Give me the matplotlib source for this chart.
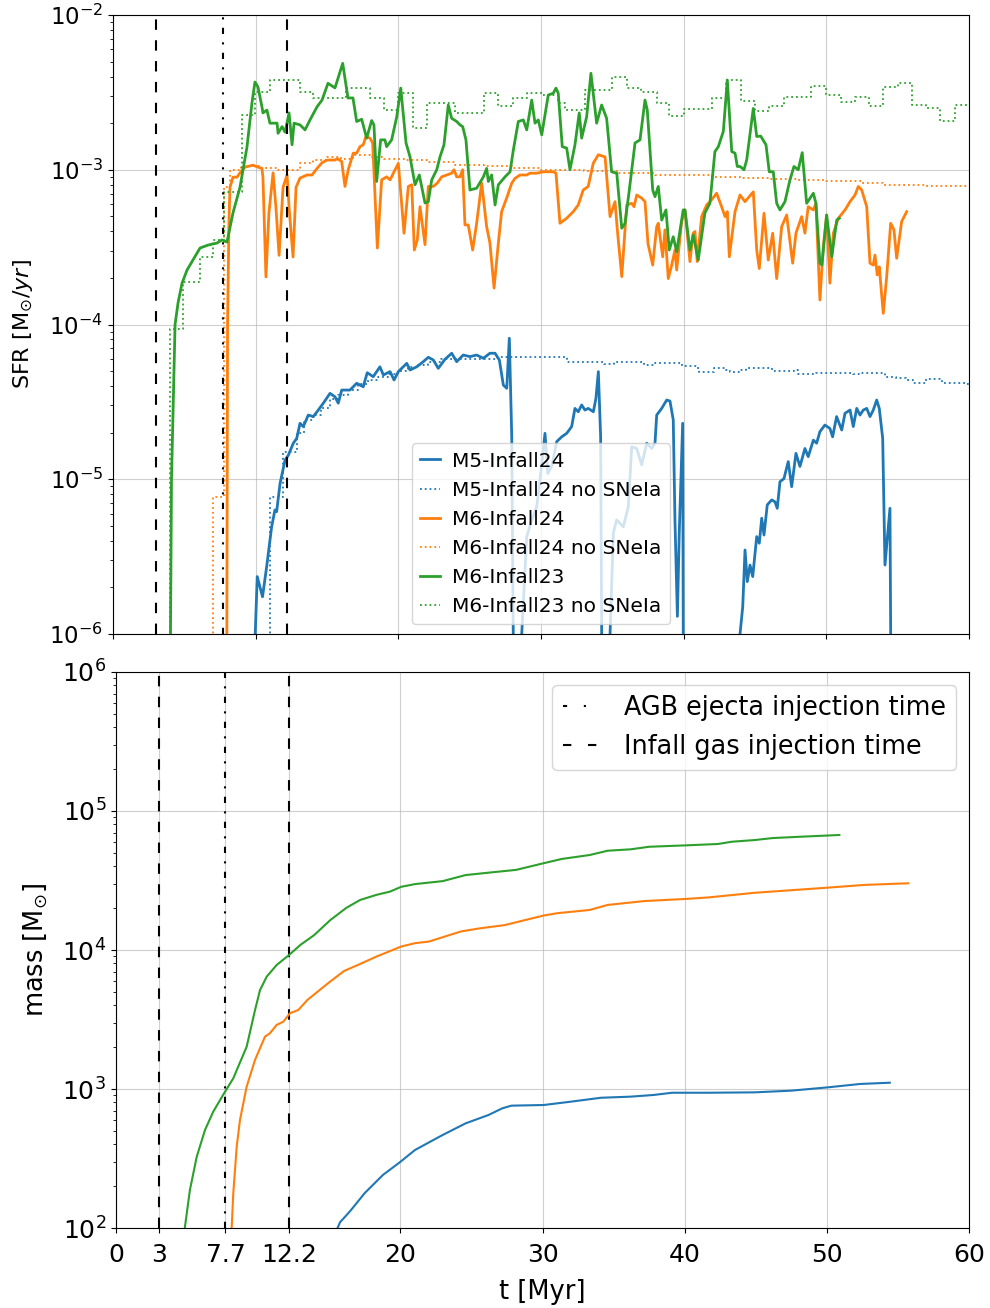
import numpy as np
import matplotlib
matplotlib.use('Agg')
import matplotlib.pyplot as plt

# injection times [Myr]
agb_time = 7.7
infall_times = [3, 12.2]
xtick_vals = [0, 3, 7.7, 12.2, 20, 30, 40, 50, 60]
xtick_labels = ['0', '3', '7.7', '12.2', '20', '30', '40', '50', '60']

# SFR [Msun/yr] vs t [Myr], (t, sfr) pairs, nan breaks the line
m5_infall24 = [
    (9.93, 5e-7), (9.97, 1e-6), (10.11, 2.35e-6), (10.48, 1.74e-6), (10.77, 2.72e-6), (11.12, 4.93e-6),
    (11.35, 6.33e-6), (11.47, 6.17e-6), (11.71, 9.4e-6), (12.06, 1.33e-5), (12.29, 1.43e-5), (12.64, 1.71e-5),
    (12.88, 1.84e-5), (13.11, 2.30e-5), (13.34, 2.19e-5), (13.69, 2.60e-5), (14.04, 2.54e-5), (14.39, 2.80e-5),
    (14.74, 3.10e-5), (15.21, 3.59e-5), (15.56, 3.41e-5), (15.79, 3.10e-5), (16.03, 3.77e-5), (16.61, 3.77e-5),
    (17.08, 4.17e-5), (17.54, 3.96e-5), (17.82, 4.88e-5), (18.24, 4.60e-5), (18.71, 5.33e-5), (18.95, 4.72e-5),
    (19.42, 4.96e-5), (19.70, 4.38e-5), (20.00, 4.96e-5), (20.59, 5.61e-5), (20.82, 5.08e-5), (21.29, 5.33e-5),
    (21.75, 5.75e-5), (22.10, 6.14e-5), (22.45, 5.9e-5), (22.80, 5.21e-5), (23.27, 5.96e-5), (23.74, 6.52e-5),
    (24.09, 5.75e-5), (24.55, 6.35e-5), (25.02, 6.2e-5), (25.49, 6.35e-5), (25.96, 6.05e-5), (26.42, 6.52e-5),
    (26.78, 6.52e-5), (27.08, 5.9e-5), (27.36, 4.06e-5), (27.60, 3.87e-5), (27.78, 8.15e-5), (27.95, 1.88e-5),
    (28.06, 1e-6), (28.08, 5e-7), (np.nan, np.nan),
    (28.62, 5e-7), (28.65, 1e-6), (29.00, 4.26e-6), (29.35, 5.46e-6), (29.70, 6.65e-6), (29.93, 9.9e-6),
    (30.28, 1.98e-5), (30.47, 1.09e-5), (30.75, 1.21e-5), (31.10, 1.75e-5), (31.45, 1.88e-5), (31.80, 1.98e-5),
    (32.15, 2.19e-5), (32.38, 2.87e-5), (32.61, 2.73e-5), (32.85, 3.02e-5), (33.08, 2.8e-5), (33.31, 2.87e-5),
    (33.67, 2.73e-5), (33.85, 3.33e-5), (34.02, 4.96e-5), (34.18, 1.88e-5), (34.25, 1e-6), (34.27, 5e-7),
    (np.nan, np.nan),
    (34.82, 5e-7), (34.84, 1e-6), (35.07, 4.48e-6), (35.30, 5.46e-6), (35.77, 4.93e-6), (36.12, 6.65e-6),
    (36.36, 1.62e-5), (36.71, 1.58e-5), (37.06, 1.24e-5), (37.41, 1.71e-5), (37.76, 1.58e-5), (37.99, 1.71e-5),
    (38.11, 2.6e-5), (38.46, 2.87e-5), (38.81, 3.25e-5), (39.04, 3.2e-5), (39.27, 2.42e-5), (39.39, 5.46e-6),
    (39.56, 1.3e-6), (39.69, 4.48e-6), (39.93, 2.3e-5), (39.97, 1e-6), (39.98, 5e-7), (np.nan, np.nan),
    (43.93, 5e-7), (43.95, 1e-6), (44.14, 1.5e-6), (44.30, 3.49e-6), (44.46, 2.18e-6), (44.65, 2.79e-6),
    (44.84, 2.35e-6), (45.12, 4.26e-6), (45.30, 3.86e-6), (45.47, 5.6e-6), (45.63, 4.36e-6), (45.86, 6.83e-6),
    (46.17, 7.35e-6), (46.40, 7.15e-6), (46.56, 6.49e-6), (46.75, 9.64e-6), (47.03, 1.01e-5), (47.33, 1.3e-5),
    (47.57, 8.95e-6), (47.87, 1.47e-5), (48.15, 1.21e-5), (48.50, 1.58e-5), (48.73, 1.4e-5), (49.09, 1.79e-5),
    (49.32, 1.71e-5), (49.55, 2.03e-5), (49.90, 2.24e-5), (50.25, 2.13e-5), (50.44, 1.88e-5), (50.72, 2.54e-5),
    (51.08, 2.08e-5), (51.31, 2.67e-5), (51.66, 2.8e-5), (51.89, 2.19e-5), (52.13, 2.87e-5), (52.36, 2.6e-5),
    (52.59, 2.8e-5), (52.83, 2.87e-5), (53.06, 2.54e-5), (53.29, 2.8e-5), (53.53, 3.25e-5), (53.71, 2.87e-5),
    (53.95, 1.84e-5), (54.11, 2.79e-6), (54.46, 6.49e-6), (54.51, 1e-6), (54.52, 5e-7),
]

m5_infall24_nosnia = [
    (10.5, 1e-7), (11.0, 7.7e-6), (11.94, 1.5e-5), (12.9, 2.0e-5), (13.4, 2.4e-5), (14.0, 2.6e-5),
    (14.6, 2.9e-5), (15.2, 3.3e-5), (15.8, 3.5e-5), (16.5, 3.8e-5), (17.2, 4.1e-5), (17.9, 4.4e-5),
    (18.6, 4.6e-5), (19.3, 4.8e-5), (20.0, 5.0e-5), (20.7, 5.3e-5), (21.4, 5.5e-5), (22.1, 5.7e-5),
    (23.0, 6.0e-5), (26.9, 6.2e-5), (31.8, 5.75e-5), (34.4, 5.55e-5), (35.1, 5.75e-5), (37.2, 5.47e-5),
    (37.9, 5.65e-5), (38.8, 5.6e-5), (39.9, 5.4e-5), (40.9, 5.2e-5), (41.1, 4.95e-5), (42.1, 5.2e-5),
    (43.0, 5.08e-5), (43.25, 4.9e-5), (43.95, 5.08e-5), (44.4, 5.2e-5), (45.8, 5.2e-5), (46.2, 5.03e-5),
    (47.7, 5.08e-5), (48.0, 4.79e-5), (49.3, 4.85e-5), (51.9, 4.79e-5), (52.4, 4.85e-5), (54.0, 4.85e-5),
    (54.1, 4.6e-5), (54.9, 4.5e-5), (55.6, 4.38e-5), (56.1, 4.2e-5), (57.0, 4.45e-5), (58.0, 4.38e-5),
    (58.1, 4.18e-5), (59.8, 4.13e-5), (60.0, 4.13e-5),
]

m6_infall24 = [
    (7.96, 5e-7), (7.98, 1e-6), (8.03, 1e-4), (8.13, 4.7e-4), (8.20, 7.7e-4), (8.41, 8.95e-4), (8.69, 8.95e-4),
    (8.90, 9.55e-4), (9.25, 1.04e-3), (9.81, 1.07e-3), (10.16, 1.04e-3), (10.44, 1.02e-3), (10.51, 8.95e-4),
    (10.72, 2.03e-4), (10.93, 5.26e-4), (11.22, 9.55e-4), (11.42, 5.74e-4), (11.64, 2.8e-4), (11.92, 7.7e-4),
    (12.20, 9.25e-4), (12.34, 5.74e-4), (12.62, 2.73e-4), (12.83, 7.7e-4), (13.11, 8.84e-4), (13.60, 9.25e-4),
    (13.95, 9.25e-4), (14.30, 1.02e-3), (14.65, 1.11e-3), (15.00, 1.155e-3), (15.56, 1.155e-3), (15.72, 1.18e-3),
    (16.03, 1.13e-3), (16.26, 7.8e-4), (16.49, 1.0e-3), (16.84, 1.28e-3), (17.08, 1.28e-3), (17.31, 1.41e-3),
    (17.54, 1.45e-3), (17.73, 1.64e-3), (18.01, 1.6e-3), (18.20, 1.49e-3), (18.53, 3.12e-4), (18.83, 8.6e-4),
    (19.18, 9.0e-4), (19.42, 8.6e-4), (19.77, 1.0e-3), (20.00, 1.10e-3), (20.40, 3.89e-4), (20.70, 7.8e-4),
    (20.94, 8.0e-4), (21.12, 3.03e-4), (21.33, 3.52e-4), (21.52, 5.77e-4), (21.87, 3.28e-4), (22.10, 7.8e-4),
    (22.45, 7.8e-4), (22.73, 8.2e-4), (23.04, 9.0e-4), (23.39, 9.25e-4), (23.74, 9.5e-4), (23.90, 1.0e-3),
    (24.09, 9.0e-4), (24.32, 9.0e-4), (24.51, 1.0e-3), (24.67, 4.4e-4), (24.90, 4.4e-4), (25.21, 3.03e-4),
    (25.49, 4.51e-4), (25.84, 8.2e-4), (26.19, 4.29e-4), (26.42, 3.36e-4), (26.71, 1.72e-4), (27.01, 3.36e-4),
    (27.24, 5.36e-4), (27.59, 6.55e-4), (27.95, 8.2e-4), (28.18, 8.8e-4), (28.53, 9.25e-4), (29.00, 9.25e-4),
    (29.23, 9.5e-4), (29.70, 9.5e-4), (30.16, 9.7e-4), (30.86, 9.7e-4), (31.05, 9.5e-4), (31.33, 4.51e-4),
    (31.80, 4.86e-4), (32.26, 5.36e-4), (32.61, 5.92e-4), (32.96, 7.4e-4), (33.31, 7.8e-4), (33.66, 1.10e-3),
    (34.02, 1.25e-3), (34.49, 1.21e-3), (34.84, 4.98e-4), (35.19, 6.22e-4), (35.35, 4.09e-4), (35.66, 2.04e-4),
    (36.01, 5.92e-4), (36.36, 6.07e-4), (36.52, 5.77e-4), (36.71, 6.87e-4), (37.06, 6.55e-4), (37.29, 6.22e-4),
    (37.50, 3.33e-4), (37.83, 2.42e-4), (38.11, 4.29e-4), (38.22, 4.51e-4), (38.53, 2.74e-4), (38.69, 4.09e-4),
    (38.92, 1.98e-4), (39.16, 2.42e-4), (39.39, 3.03e-4), (39.51, 2.25e-4), (39.86, 4.63e-4), (40.09, 5.5e-4),
    (40.44, 2.55e-4), (40.67, 3.89e-4), (40.79, 3.99e-4), (40.95, 2.55e-4), (41.26, 4.98e-4), (41.61, 5.92e-4),
    (41.96, 6.4e-4), (42.31, 7.05e-4), (42.66, 5.77e-4), (42.90, 4.98e-4), (43.06, 5.36e-4), (43.20, 2.74e-4),
    (43.60, 5.36e-4), (43.95, 6.87e-4), (44.30, 6.22e-4), (44.88, 7.2e-4), (45.12, 3.03e-4), (45.30, 2.3e-4),
    (45.63, 5.23e-4), (45.93, 2.61e-4), (46.24, 3.89e-4), (46.52, 1.98e-4), (46.87, 4.29e-4), (47.22, 5.1e-4),
    (47.64, 2.49e-4), (47.87, 3.89e-4), (48.27, 4.98e-4), (48.50, 3.89e-4), (48.73, 5.77e-4), (49.09, 5.5e-4),
    (49.27, 6.07e-4), (49.55, 1.44e-4), (49.79, 3.2e-4), (50.02, 5.1e-4), (50.25, 1.85e-4), (50.49, 3.89e-4),
    (50.84, 4.86e-4), (51.31, 5.5e-4), (51.66, 6.22e-4), (52.01, 6.87e-4), (52.24, 7.8e-4), (52.48, 7.4e-4),
    (52.83, 5.77e-4), (53.06, 2.49e-4), (53.29, 2.42e-4), (53.41, 2.81e-4), (53.57, 2.09e-4), (53.71, 2.36e-4),
    (53.99, 1.18e-4), (54.23, 2.04e-4), (54.51, 4.51e-4), (54.74, 4.09e-4), (54.93, 2.68e-4), (55.28, 4.63e-4),
    (55.63, 5.36e-4),
]

m6_infall24_nosnia = [
    (6.5, 1e-7), (6.99, 7.7e-6), (7.75, 7.7e-4), (8.2, 1.0e-3), (9.0, 1.05e-3), (10.2, 1.02e-3), (11.5, 1.0e-3),
    (13.1, 1.1e-3), (14.0, 1.15e-3), (15.0, 1.2e-3), (16.0, 1.18e-3), (16.8, 1.24e-3), (18.0, 1.2e-3),
    (19.0, 1.17e-3), (20.5, 1.15e-3), (22.0, 1.12e-3), (24.0, 1.08e-3), (26.0, 1.05e-3), (28.0, 1.03e-3),
    (30.0, 1.0e-3), (33.0, 9.8e-4), (35.5, 9.5e-4), (38.0, 9.3e-4), (40.0, 9.2e-4), (42.0, 9.0e-4),
    (44.0, 8.8e-4), (46.0, 8.7e-4), (48.0, 8.6e-4), (50.0, 8.4e-4), (52.5, 8.2e-4), (54.0, 8.0e-4),
    (57.0, 7.9e-4), (60.0, 7.8e-4),
]

m6_infall23 = [
    (4.00, 5e-7), (4.03, 1e-6), (4.10, 1e-5), (4.35, 1.0e-4), (4.56, 1.38e-4), (4.84, 1.85e-4), (5.19, 2.25e-4),
    (5.89, 2.9e-4), (6.10, 3.12e-4), (6.66, 3.26e-4), (7.29, 3.36e-4), (7.64, 3.52e-4), (7.99, 3.41e-4),
    (8.41, 5.26e-4), (8.90, 7.7e-4), (9.39, 1.4e-3), (9.74, 2.7e-3), (9.95, 3.69e-3), (10.16, 3.43e-3),
    (10.44, 2.55e-3), (10.51, 2.33e-3), (10.79, 2.43e-3), (11.00, 2.0e-3), (11.50, 2.0e-3), (11.57, 1.72e-3),
    (11.85, 1.9e-3), (12.06, 1.75e-3), (12.34, 2.33e-3), (12.55, 1.45e-3), (12.69, 2.0e-3), (13.11, 1.95e-3),
    (13.46, 1.81e-3), (13.81, 2.1e-3), (14.30, 2.55e-3), (14.65, 2.82e-3), (15.07, 3.62e-3), (15.56, 3.38e-3),
    (16.10, 4.87e-3), (16.47, 2.91e-3), (16.82, 2.91e-3), (17.08, 2.05e-3), (17.43, 2.12e-3), (17.78, 1.6e-3),
    (18.13, 2.08e-3), (18.29, 1.95e-3), (18.48, 8.4e-4), (18.76, 1.56e-3), (19.06, 1.56e-3), (19.18, 1.41e-3),
    (19.53, 1.56e-3), (19.89, 2.2e-3), (20.17, 3.37e-3), (20.54, 1.49e-3), (20.82, 1.21e-3), (21.17, 8.0e-4),
    (21.47, 9.25e-4), (21.87, 6.1e-4), (22.10, 6.22e-4), (22.34, 8.6e-4), (22.69, 1.0e-3), (22.92, 1.21e-3),
    (23.20, 1.45e-3), (23.50, 2.62e-3), (23.74, 2.15e-3), (24.09, 2.05e-3), (24.32, 1.95e-3), (24.51, 1.9e-3),
    (24.74, 1.56e-3), (25.02, 7.4e-4), (25.49, 7.6e-4), (25.96, 9.0e-4), (26.19, 1.02e-3), (26.31, 8.4e-4),
    (26.54, 9.25e-4), (26.78, 5.92e-4), (27.01, 8.0e-4), (27.48, 9.0e-4), (27.83, 9.7e-4), (28.06, 1.34e-3),
    (28.41, 2.05e-3), (28.76, 2.1e-3), (29.00, 1.81e-3), (29.35, 2.82e-3), (29.58, 2.0e-3), (29.81, 2.1e-3),
    (30.05, 1.68e-3), (30.51, 3.04e-3), (30.86, 3.12e-3), (31.05, 3.37e-3), (31.21, 3.12e-3), (31.49, 1.41e-3),
    (31.80, 1.38e-3), (32.03, 1.0e-3), (32.38, 1.45e-3), (32.68, 2.33e-3), (32.85, 1.6e-3), (33.20, 2.2e-3),
    (33.50, 4.2e-3), (33.90, 2.0e-3), (34.25, 2.62e-3), (34.60, 2.15e-3), (34.95, 9.7e-4), (35.31, 9.5e-4),
    (35.66, 4.19e-4), (35.89, 4.51e-4), (36.19, 7.4e-4), (36.59, 1.49e-3), (36.94, 1.56e-3), (37.29, 2.82e-3),
    (37.45, 2.43e-3), (37.83, 7.4e-4), (37.99, 6.7e-4), (38.22, 7.8e-4), (38.46, 4.73e-4), (38.76, 5.5e-4),
    (38.99, 3.03e-4), (39.27, 3.69e-4), (39.51, 2.95e-4), (39.97, 5.5e-4), (40.09, 5.5e-4), (40.44, 3.03e-4),
    (40.67, 3.79e-4), (41.02, 2.61e-4), (41.49, 5.26e-4), (41.84, 6.07e-4), (42.19, 1.31e-3), (42.43, 1.41e-3),
    (42.66, 1.64e-3), (42.78, 1.77e-3), (43.06, 3.8e-3), (43.37, 1.31e-3), (43.60, 1.28e-3), (43.76, 1.05e-3),
    (43.95, 1.05e-3), (44.23, 1.0e-3), (44.42, 1.16e-3), (44.88, 2.49e-3), (45.12, 1.64e-3), (45.40, 1.65e-3),
    (45.77, 1.45e-3), (46.00, 9.7e-4), (46.28, 9.7e-4), (46.52, 6.07e-4), (46.75, 5.5e-4), (47.10, 6.22e-4),
    (47.45, 8.6e-4), (47.73, 1.05e-3), (48.03, 1.0e-3), (48.31, 1.29e-3), (48.62, 6.07e-4), (49.09, 7.05e-4),
    (49.27, 6.07e-4), (49.55, 2.49e-4), (49.69, 2.42e-4), (50.02, 5.1e-4), (50.38, 2.74e-4), (50.73, 4.73e-4),
    (50.91, 4.86e-4),
]

m6_infall23_nosnia = [
    (3.9, 1e-7), (4.0, 9.4e-5), (4.93, 1.89e-4), (6.1, 2.74e-4), (7.03, 3.5e-4), (7.8, 7.2e-4), (9.02, 2.26e-3),
    (9.95, 3.2e-3), (11.0, 3.8e-3), (13.1, 3.2e-3), (14.0, 2.9e-3), (16.3, 3.37e-3), (18.0, 2.9e-3),
    (19.0, 2.43e-3), (20.0, 3.12e-3), (21.05, 1.85e-3), (22.0, 2.7e-3), (24.0, 2.33e-3), (26.0, 3.12e-3),
    (27.0, 2.58e-3), (28.05, 2.9e-3), (29.0, 3.15e-3), (30.05, 3.04e-3), (31.2, 2.7e-3), (31.7, 2.43e-3),
    (33.08, 3.28e-3), (35.0, 3.97e-3), (36.05, 3.37e-3), (37.0, 3.2e-3), (38.1, 2.71e-3), (39.0, 2.23e-3),
    (40.0, 2.47e-3), (42.0, 2.9e-3), (43.0, 3.8e-3), (44.0, 2.8e-3), (45.0, 2.38e-3), (46.0, 2.57e-3),
    (47.0, 2.94e-3), (48.9, 3.48e-3), (50.0, 3.04e-3), (51.0, 2.76e-3), (52.0, 2.97e-3), (53.0, 2.57e-3),
    (54.0, 3.44e-3), (55.0, 3.62e-3), (56.0, 2.62e-3), (57.0, 2.5e-3), (58.0, 2.08e-3), (59.0, 2.62e-3),
    (60.0, 2.62e-3),
]

# stellar mass [Msun] vs t [Myr]
mass_m5_infall24 = [
    (15.47, 94), (15.76, 110), (16.46, 132), (17.51, 179), (18.78, 241), (19.98, 298), (21.03, 364),
    (22.33, 430), (22.98, 467), (24.59, 566), (26.20, 650), (27.17, 726), (27.82, 759), (30.08, 767),
    (32.01, 811), (34.11, 865), (36.20, 881), (37.82, 906), (39.11, 940), (41.69, 940), (44.92, 946),
    (47.50, 973), (50.08, 1028), (52.34, 1087), (54.43, 1110),
]
mass_m6_infall24 = [
    (8.12, 91), (8.14, 102), (8.25, 178), (8.49, 385), (8.72, 598), (9.19, 1040), (9.78, 1620), (10.48, 2380),
    (10.83, 2520), (11.30, 2890), (11.77, 3050), (12.24, 3510), (12.82, 3700), (13.46, 4370), (14.91, 5760),
    (16.04, 7060), (17.01, 7800), (18.30, 8950), (20.07, 1.06e4), (21.04, 1.12e4), (22.01, 1.15e4),
    (24.27, 1.36e4), (25.56, 1.43e4), (27.33, 1.51e4), (30.08, 1.77e4), (31.04, 1.84e4), (33.30, 1.94e4),
    (34.59, 2.11e4), (37.17, 2.25e4), (40.08, 2.33e4), (41.69, 2.39e4), (44.92, 2.58e4), (50.08, 2.81e4),
    (52.66, 2.94e4), (55.73, 3.02e4),
]
mass_m6_infall23 = [
    (4.82, 96), (4.85, 102), (5.20, 188), (5.68, 326), (6.26, 507), (6.84, 687), (7.60, 931), (8.25, 1194),
    (9.19, 2014), (9.78, 3700), (10.13, 5150), (10.60, 6430), (11.30, 7800), (12.17, 9200), (12.98, 1.09e4),
    (13.94, 1.28e4), (15.07, 1.64e4), (16.20, 2.01e4), (17.17, 2.29e4), (18.30, 2.49e4), (19.27, 2.63e4),
    (20.07, 2.85e4), (21.04, 2.98e4), (22.98, 3.13e4), (24.59, 3.46e4), (26.20, 3.60e4), (28.14, 3.77e4),
    (30.08, 4.21e4), (31.36, 4.52e4), (33.30, 4.82e4), (34.59, 5.18e4), (36.20, 5.3e4), (37.50, 5.53e4),
    (40.08, 5.66e4), (42.34, 5.79e4), (43.31, 6.01e4), (44.92, 6.18e4), (46.21, 6.39e4), (48.15, 6.53e4),
    (50.88, 6.72e4),
]


def xy(pairs):
    arr = np.array(pairs, dtype=float)
    return arr[:, 0], arr[:, 1]


fig = plt.figure(figsize=(9.9, 13.08), dpi=100)
ax1 = fig.add_axes([0.11414, 0.51529, 0.86465, 0.47324])
ax2 = fig.add_axes([0.11717, 0.06116, 0.86162, 0.42508])

# --- top: star formation rate ---
runs = [
    (m5_infall24, m5_infall24_nosnia, 'C0', 'M5-Infall24'),
    (m6_infall24, m6_infall24_nosnia, 'C1', 'M6-Infall24'),
    (m6_infall23, m6_infall23_nosnia, 'C2', 'M6-Infall23'),
]
for solid, dotted, col, name in runs:
    t, s = xy(solid)
    ax1.plot(t, s, color=col, lw=2.0, label=name)
    t, s = xy(dotted)
    ax1.plot(t, s, color=col, lw=1.3, ls=':', drawstyle='steps-post', label=name + ' no SNeIa')

dash = (0, (5, 5))
dashdot = (0, (3, 4, 1, 4))
for ax in (ax1, ax2):
    for ti in infall_times:
        ax.axvline(ti, color='k', ls=dash, lw=1.5)
    ax.axvline(agb_time, color='k', ls=dashdot, lw=1.5)

ax1.set_yscale('log')
ax1.set_ylim(1e-6, 1e-2)
ax1.set_xlim(0, 60)
ax1.grid(True, alpha=0.6)
ax1.tick_params(labelbottom=False, labelsize=16.5)
ax1.set_ylabel(r'SFR [M$_{\odot}/yr$]', fontsize=16, labelpad=10)
ax1.legend(loc='lower center', fontsize=14.5, handlelength=1.0, handletextpad=0.6)

# --- bottom: stellar mass ---
for pairs, col in [(mass_m5_infall24, 'C0'), (mass_m6_infall24, 'C1'), (mass_m6_infall23, 'C2')]:
    t, m = xy(pairs)
    ax2.plot(t, m, color=col, lw=1.5)

ax2.set_yscale('log')
ax2.set_ylim(1e2, 1e6)
ax2.set_xlim(0, 60)
ax2.set_xticks(xtick_vals)
ax2.set_xticklabels(xtick_labels)
ax2.grid(True, alpha=0.6)
ax2.tick_params(labelsize=18)
ax2.tick_params(axis='x', pad=7)
ax2.set_xlabel('t [Myr]', fontsize=18.5, labelpad=9)
ax2.set_ylabel(r'mass [M$_{\odot}$]', fontsize=18.5, labelpad=9)

h_agb = plt.Line2D([], [], color='k', ls=(0, (2, 8, 1, 8)), lw=1.5)
h_inf = plt.Line2D([], [], color='k', ls=(0, (4, 8)), lw=1.5)
ax2.legend([h_agb, h_inf], ['AGB ejecta injection time', 'Infall gas injection time'],
           loc='upper right', fontsize=18.4, handlelength=1.5, handletextpad=0.9)

fig.savefig('out.png', dpi=100)
